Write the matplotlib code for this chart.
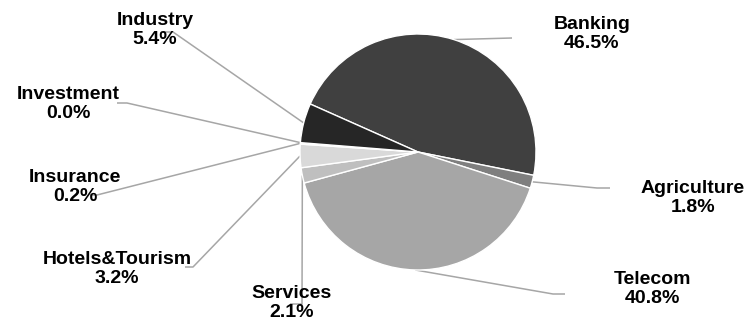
import matplotlib
matplotlib.use("Agg")
import matplotlib.pyplot as plt
import numpy as np

# sector shares (%), clockwise from the upper left
sectors = ["Banking", "Agriculture", "Telecom", "Services",
           "Hotels&Tourism", "Insurance", "Investment", "Industry"]
shares = [46.5, 1.8, 40.8, 2.1, 3.2, 0.2, 0.0, 5.4]
colors = ["#404040", "#7f7f7f", "#a6a6a6", "#bfbfbf",
          "#d9d9d9", "#f0f0f0", "#e8e8e8", "#262626"]

W, H = 750, 322
fig = plt.figure(figsize=(W / 100, H / 100), dpi=100)
ax = fig.add_axes([0, 0, 1, 1])

cx, cy, r = 418, H - 152, 118
wedges, _ = ax.pie(shares, colors=colors, startangle=156, counterclock=False,
                   center=(cx, cy), radius=r,
                   wedgeprops=dict(edgecolor="white", linewidth=1.0))

# label layout in pixel coords (y from top): elbow, end of leader, text centre
layout = {
    "Banking":        ((512, 38),  None,       (592, 34)),
    "Agriculture":    ((597, 188), (610, 188), (693, 198)),
    "Telecom":        ((553, 294), (565, 294), (652, 289)),
    "Services":       ((302, 304), (290, 304), (292, 303)),
    "Hotels&Tourism": ((193, 267), (185, 267), (117, 269)),
    "Insurance":      ((97, 195),  (90, 195),  (75, 187)),
    "Investment":     ((127, 103), (117, 103), (68, 104)),
    "Industry":       ((173, 32),  (163, 32),  (155, 30)),
}

for w, name, val in zip(wedges, sectors, shares):
    mid = np.deg2rad((w.theta1 + w.theta2) / 2)
    ex, ey = cx + r * np.cos(mid), cy + r * np.sin(mid)
    elbow, end, txt = layout[name]
    xs = [ex, elbow[0]]
    ys = [ey, H - elbow[1]]
    if end is not None:
        xs.append(end[0])
        ys.append(H - end[1])
    ax.plot(xs, ys, color="#a6a6a6", lw=1.1, zorder=0, solid_capstyle="butt")
    ax.text(txt[0], H - txt[1], f"{name}\n{val:.1f}%", ha="center", va="center",
            fontsize=14, fontweight="bold", family="Liberation Sans",
            color="#000000", linespacing=1.2)

ax.set_xlim(0, W)
ax.set_ylim(0, H)
ax.set_aspect("equal")
ax.set_axis_off()

fig.savefig("out.png", dpi=100)
